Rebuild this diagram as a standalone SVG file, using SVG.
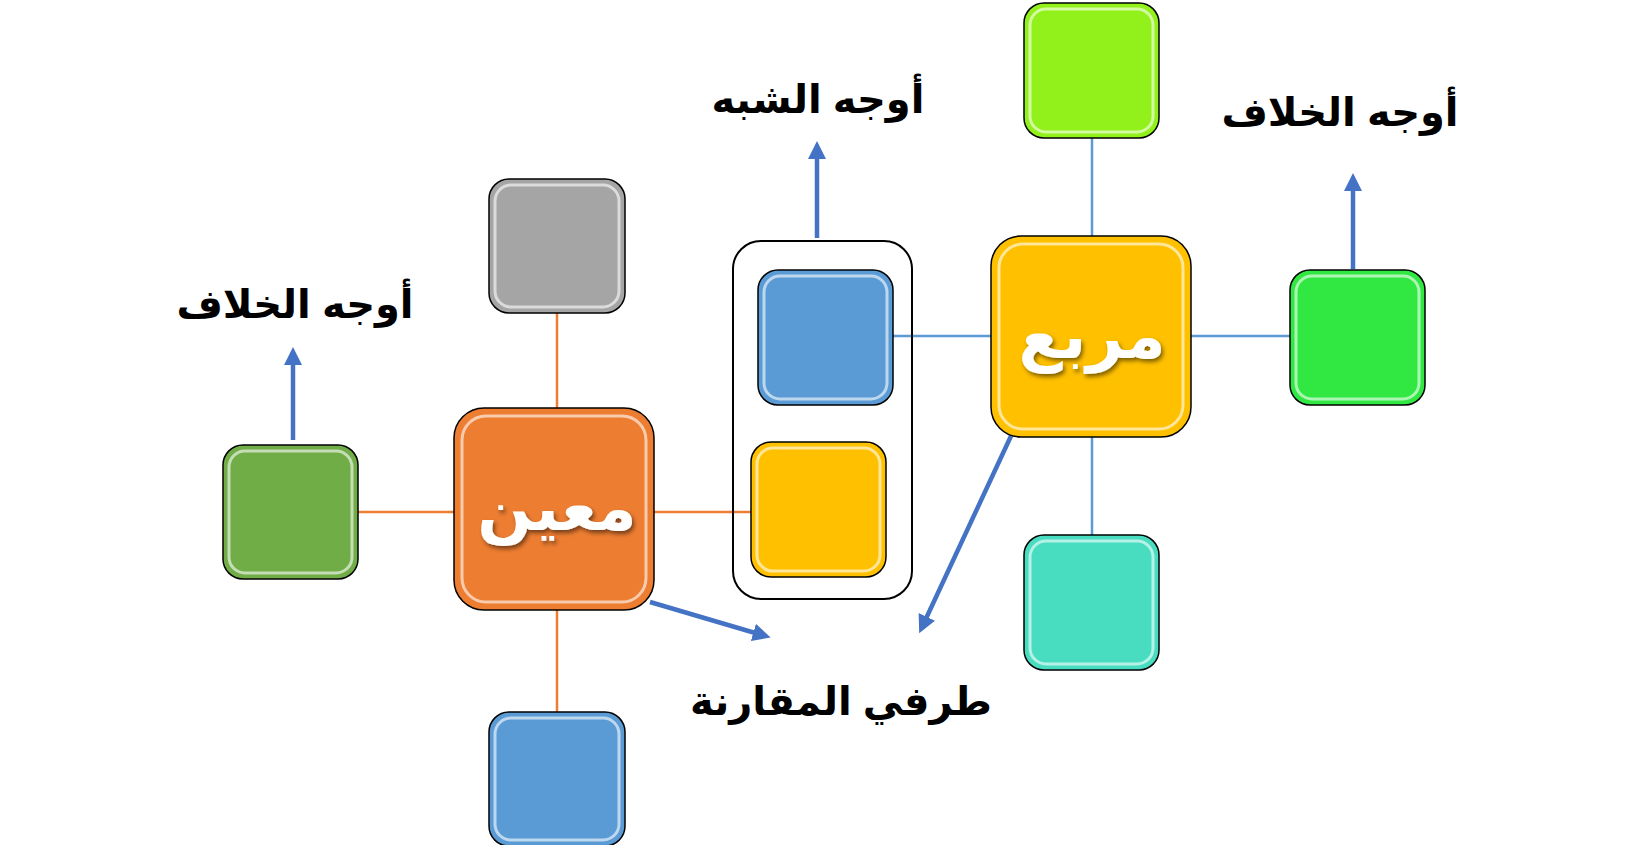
<svg xmlns="http://www.w3.org/2000/svg" width="1640" height="845" viewBox="0 0 1640 845">
<style>
.b{stroke:#000;stroke-width:1.5}
.hl{fill:none;stroke:#fff;stroke-opacity:.6;stroke-width:3}
.lbl{font-family:"Liberation Sans","DejaVu Sans",sans-serif;font-weight:bold;font-size:40px;fill:#000;text-anchor:middle}
.big{font-family:"Liberation Sans","DejaVu Sans",sans-serif;font-weight:bold;font-size:64px;fill:#fff;text-anchor:middle;filter:url(#sh)}
.ar{stroke:#4472C4;stroke-width:4.5;marker-end:url(#ah)}
</style>
<defs>
<marker id="ah" markerWidth="4" markerHeight="4" refX="2" refY="2" orient="auto" markerUnits="strokeWidth"><path d="M0,0 L4,2 L0,4 Z" fill="#4472C4"/></marker>
<filter id="sh"><feDropShadow dx="2" dy="3" stdDeviation="2" flood-color="#000" flood-opacity=".5"/></filter>
</defs>
<rect width="1640" height="845" fill="#fff"/>
<g id="connectors">
<g stroke="#ED7D31" stroke-width="2.5">
<line x1="358" y1="512" x2="454" y2="512"/><line x1="654" y1="512" x2="751" y2="512"/>
<line x1="557" y1="313" x2="557" y2="408"/><line x1="557" y1="610" x2="557" y2="712"/>
</g>
<g stroke="#5B9BD5" stroke-width="2.5">
<line x1="893" y1="336" x2="991" y2="336"/><line x1="1191" y1="336" x2="1290" y2="336"/>
<line x1="1092" y1="138" x2="1092" y2="236"/><line x1="1092" y1="437" x2="1092" y2="535"/>
</g>
<line class="ar" x1="293" y1="440" x2="293" y2="356"/>
<line class="ar" x1="817" y1="238" x2="817" y2="150"/>
<line class="ar" x1="1353" y1="269" x2="1353" y2="182"/>
<line class="ar" x1="650" y1="602" x2="762" y2="635"/>
<line class="ar" x1="1011" y1="436" x2="923" y2="625"/>
</g>
<g id="container"><rect x="733" y="241" width="179" height="358" rx="28" fill="none" stroke="#000" stroke-width="2"/></g>
<g id="n-orange"><rect class="b" x="454" y="408" width="200" height="202" rx="30" fill="#ED7D31"/><rect class="hl" x="462" y="416" width="184" height="186" rx="24"/><text class="big" x="557" y="530">معين</text></g>
<g id="n-gray"><rect class="b" x="489" y="179" width="136" height="134" rx="20" fill="#A5A5A5"/><rect class="hl" x="495" y="185" width="124" height="122" rx="16"/></g>
<g id="n-blue-bottom"><rect class="b" x="489" y="712" width="136" height="134" rx="20" fill="#5B9BD5"/><rect class="hl" x="495" y="718" width="124" height="122" rx="16"/></g>
<g id="n-green-left"><rect class="b" x="223" y="445" width="135" height="134" rx="20" fill="#70AD47"/><rect class="hl" x="229" y="451" width="123" height="122" rx="16"/></g>
<g id="n-blue-inner"><rect class="b" x="758" y="270" width="135" height="135" rx="20" fill="#5B9BD5"/><rect class="hl" x="764" y="276" width="123" height="123" rx="16"/></g>
<g id="n-yellow-inner"><rect class="b" x="751" y="442" width="135" height="135" rx="20" fill="#FFC000"/><rect class="hl" x="757" y="448" width="123" height="123" rx="16"/></g>
<g id="n-yellow"><rect class="b" x="991" y="236" width="200" height="201" rx="30" fill="#FFC000"/><rect class="hl" x="999" y="244" width="184" height="185" rx="24"/><text class="big" x="1092" y="358">مربع</text></g>
<g id="n-lime"><rect class="b" x="1024" y="3" width="135" height="135" rx="20" fill="#92F11A"/><rect class="hl" x="1030" y="9" width="123" height="123" rx="16"/></g>
<g id="n-green-right"><rect class="b" x="1290" y="270" width="135" height="135" rx="20" fill="#31E843"/><rect class="hl" x="1296" y="276" width="123" height="123" rx="16"/></g>
<g id="n-teal"><rect class="b" x="1024" y="535" width="135" height="135" rx="20" fill="#48DDC0"/><rect class="hl" x="1030" y="541" width="123" height="123" rx="16"/></g>
<g id="labels">
<text class="lbl" x="295" y="318">أوجه الخلاف</text>
<text class="lbl" x="818" y="113">أوجه الشبه</text>
<text class="lbl" x="1340" y="126">أوجه الخلاف</text>
<text class="lbl" x="841" y="715">طرفي المقارنة</text>
</g>
</svg>
